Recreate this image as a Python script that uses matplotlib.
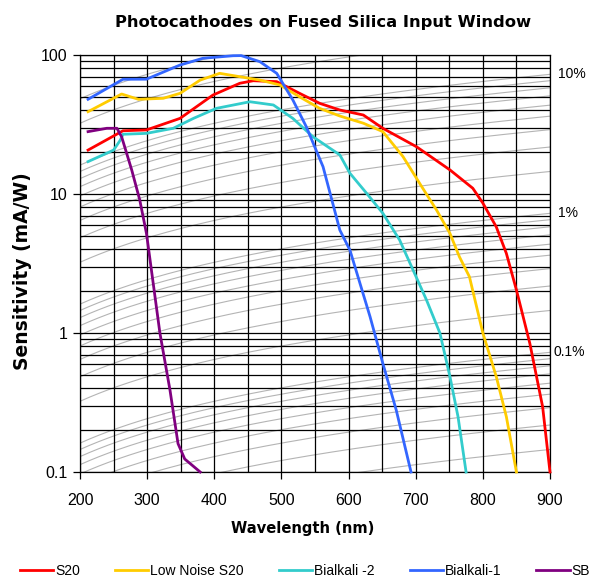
import numpy as np
from matplotlib import pyplot as plt
from matplotlib.ticker import FixedLocator, NullFormatter

plt.rcParams["font.family"] = ["Liberation Sans", "DejaVu Sans"]

# wavelength (nm) / sensitivity (mA/W)
s20_wl = [212, 264, 299, 349, 398, 438, 458, 493, 527, 557, 587, 622, 651, 701, 751, 785, 800, 820, 835, 850, 870, 889, 900]
s20_val = [20.7, 28.5, 28.9, 35, 51.5, 62.6, 65.3, 64.3, 53, 44.9, 40.2, 37, 29.7, 21.9, 14.9, 11, 8.6, 5.8, 3.74, 2.04, 0.84, 0.295, 0.1]

lns20_wl = [212, 262, 287, 324, 349, 379, 408, 438, 468, 498, 527, 557, 587, 622, 651, 681, 706, 731, 751, 765, 780, 800, 820, 835, 850]
lns20_val = [39.1, 52.4, 48, 48.8, 53, 66, 73.8, 69.8, 66, 60.8, 50, 41.3, 36.4, 32.3, 28.1, 18.6, 11.9, 7.67, 5.2, 3.54, 2.54, 1.0, 0.485, 0.25, 0.1]

bk2_wl = [212, 250, 260, 264, 299, 339, 369, 403, 453, 488, 517, 547, 587, 602, 627, 651, 676, 716, 736, 751, 763, 775]
bk2_val = [17.1, 20.7, 24.4, 26.9, 27.3, 29.7, 35, 41.3, 46.1, 43.7, 35, 25.8, 19.1, 14.1, 10.1, 7.27, 4.67, 1.73, 1.0, 0.485, 0.25, 0.1]

bk1_wl = [212, 264, 299, 349, 383, 428, 440, 468, 493, 517, 537, 562, 587, 602, 632, 651, 671, 693]
bk1_val = [48, 66.9, 67, 84.7, 94.7, 98.8, 99, 89.5, 73.8, 47.5, 30.5, 15.7, 5.5, 3.95, 1.31, 0.605, 0.279, 0.1]

sb_wl = [212, 240, 255, 262, 277, 289, 299, 304, 319, 334, 346, 356, 379]
sb_val = [28.1, 29.7, 29.7, 25.8, 14.9, 9.06, 5.2, 3.45, 1.0, 0.389, 0.16, 0.124, 0.1]

series_names = ["S20", "Low Noise S20", "Bialkali -2", "Bialkali-1", "SB"]
series_colors = ["#ff0000", "#ffcc00", "#33cccc", "#3366ff", "#800080"]

# quantum efficiency reference lines (fraction)
qe_levels = ([k * 1e-4 for k in range(1, 10)] + [k * 1e-3 for k in range(1, 10)]
             + [k * 1e-2 for k in range(1, 10)] + [0.1, 0.2, 0.3])
qe_labels = {0.1: "10%", 0.01: "1%", 0.001: "0.1%"}

fig = plt.figure(figsize=(5.91, 5.79), dpi=100)
ax = fig.add_axes([80 / 591, 1 - 472 / 579, 470 / 591, 417 / 579])
ax.set_xlim(200, 900)
ax.set_yscale("log")
ax.set_ylim(0.1, 100)

wl = np.linspace(200, 900, 200)
for qe in qe_levels:
    ax.plot(wl, qe * wl / 1.2398, color="#b4b4b4", lw=0.8, zorder=1)

ax.xaxis.set_major_locator(FixedLocator(range(200, 901, 100)))
ax.xaxis.set_minor_locator(FixedLocator(range(250, 900, 100)))
ax.yaxis.set_major_locator(FixedLocator([0.1, 1, 10, 100]))
ax.yaxis.set_minor_locator(FixedLocator([k * 10.0 ** m for m in (-1, 0, 1) for k in range(2, 10)]))
ax.yaxis.set_minor_formatter(NullFormatter())
ax.set_yticklabels(["0.1", "1", "10", "100"])
ax.grid(which="both", color="black", lw=0.9, zorder=2)
ax.set_axisbelow(False)
ax.tick_params(which="major", direction="out", length=5, width=0.9, labelsize=11.5)
ax.tick_params(axis="y", which="major", pad=4)
ax.tick_params(axis="x", which="major", pad=10)
ax.tick_params(which="minor", length=0)
for sp in ax.spines.values():
    sp.set_linewidth(0.9)

data = [(s20_wl, s20_val), (lns20_wl, lns20_val), (bk2_wl, bk2_val), (bk1_wl, bk1_val), (sb_wl, sb_val)]
handles = []
for (x, y), name, col in zip(data, series_names, series_colors):
    h, = ax.plot(x, y, color=col, lw=2.0, label=name, zorder=4, clip_on=False)
    handles.append(h)

for qe, txt in qe_labels.items():
    ax.text(912 if qe > 0.001 else 905, qe * 900 / 1.2398, txt, fontsize=10, va="center", ha="left",
            clip_on=False)

bold = dict(family="DejaVu Sans", fontweight="bold")
fig.text(323 / 591, 1 - 23 / 579, "Photocathodes on Fused Silica Input Window", ha="center", va="center",
         fontsize=11.8, **bold)
fig.text(303 / 591, 1 - 529 / 579, "Wavelength (nm)", ha="center", va="center", fontsize=10.6, **bold)
fig.text(23 / 591, 1 - 271 / 579, "Sensitivity (mA/W)", ha="center", va="center", rotation=90,
         fontsize=13.5, **bold)

leg = fig.legend(handles=handles, loc="lower left", bbox_to_anchor=(20 / 591, 1 / 579), ncol=5, frameon=False,
                 fontsize=10, handlelength=2.4, handletextpad=0.15, columnspacing=2.5, borderpad=0,
                 borderaxespad=0)

fig.savefig("out.png", dpi=100)
